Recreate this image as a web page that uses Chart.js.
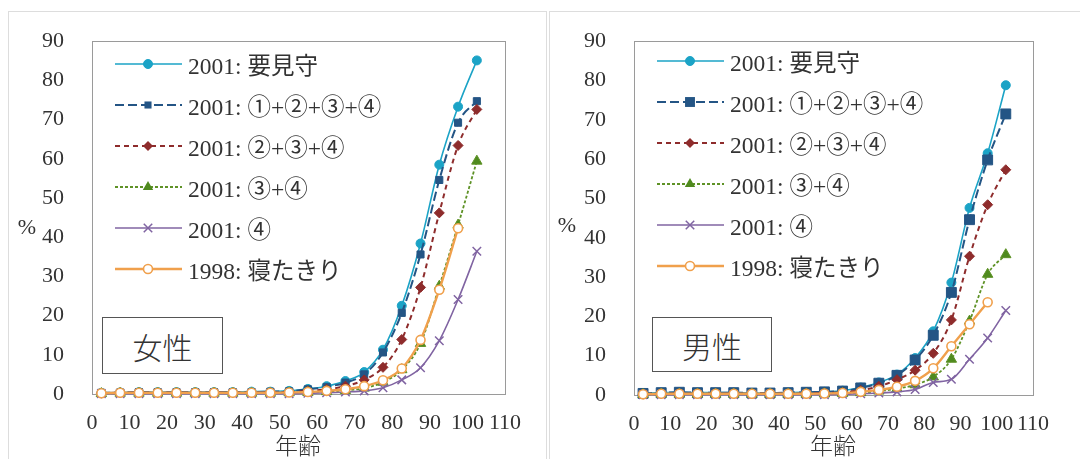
<!DOCTYPE html>
<html>
<head>
<meta charset="utf-8">
<script src="https://cdn.jsdelivr.net/npm/chart.js@4.4.1/dist/chart.umd.min.js"></script>
<style>
  body { margin: 0; background: #fff; width: 1080px; height: 459px; overflow: hidden; position: relative;
         font-family: "Liberation Serif", "Noto Sans CJK JP", serif; color: #333; }
  .frame { position: absolute; top: 11px; height: 470px; border: 1px solid #ddd; }
  .panel { position: absolute; top: 0; width: 540px; height: 459px; }
  .panel canvas { position: absolute; left: 0; top: 0; }
  .lbl { position: absolute; font-size: 22px; transform: translate(-50%, -50%); white-space: nowrap; }
  .jp { font-family: "Noto Sans CJK JP", sans-serif; font-weight: 300; font-size: 23px; }
  .legend { position: absolute; }
  .row { height: 41px; display: flex; align-items: center; font-size: 23.5px; white-space: nowrap; }
  .row svg { margin-right: 6px; flex: none; }
  .sex { position: absolute; box-sizing: border-box; border: 1.5px solid #555; background: #fff;
         font-family: "Noto Sans CJK JP", sans-serif; font-weight: 300; font-size: 30px; color: #333;
         display: flex; align-items: center; justify-content: center; }
</style>
</head>
<body>
<div class="frame" style="left:8px;width:537px"></div>
<div class="frame" style="left:549px;width:540px"></div>

<div class="panel" id="pF" style="left:0">
  <canvas id="cF" width="540" height="459"></canvas>
</div>
<div class="panel" id="pM" style="left:540px">
  <canvas id="cM" width="540" height="459"></canvas>
</div>

<script>
// age class midpoints (5-year groups)
const ages = [2.5, 7.5, 12.5, 17.5, 22.5, 27.5, 32.5, 37.5, 42.5, 47.5, 52.5,
              57.5, 62.5, 67.5, 72.5, 77.5, 82.5, 87.5, 92.5, 97.5, 102.5];
const xTickValues = [0, 10, 20, 30, 40, 50, 60, 70, 80, 90, 100, 110];
const yTickValues = [0, 10, 20, 30, 40, 50, 60, 70, 80, 90];

const seriesLabels = ['2001: 要見守', '2001: ①+②+③+④', '2001: ②+③+④',
                      '2001: ③+④', '2001: ④', '1998: 寝たきり'];

// 女性 (%)
const femaleWatch = [0.3, 0.4, 0.5, 0.5, 0.5, 0.5, 0.5, 0.5, 0.6, 0.6, 0.8, 1.3, 2.0, 3.3, 5.6, 11.3, 22.5, 38.4, 58.5, 73.3, 85.1];
const femaleAll   = [0.3, 0.4, 0.5, 0.5, 0.5, 0.5, 0.5, 0.5, 0.5, 0.6, 0.7, 1.2, 1.8, 2.9, 5.0, 10.6, 20.7, 35.6, 54.6, 69.2, 74.7];
const female234   = [0.2, 0.3, 0.3, 0.3, 0.3, 0.3, 0.3, 0.3, 0.4, 0.4, 0.5, 0.8, 1.2, 2.0, 3.6, 6.8, 13.9, 27.2, 46.2, 63.4, 72.6];
const female34    = [0.1, 0.2, 0.2, 0.2, 0.2, 0.2, 0.2, 0.2, 0.2, 0.2, 0.3, 0.4, 0.6, 0.9, 1.5, 3.0, 6.2, 12.9, 27.5, 43.1, 59.4];
const female4     = [0.1, 0.1, 0.1, 0.1, 0.1, 0.1, 0.1, 0.1, 0.1, 0.1, 0.1, 0.2, 0.3, 0.5, 0.8, 1.6, 3.6, 6.7, 13.6, 24.1, 36.4];
const female1998  = [0.2, 0.3, 0.3, 0.3, 0.3, 0.3, 0.3, 0.3, 0.3, 0.3, 0.4, 0.5, 0.8, 1.2, 2.0, 3.5, 6.5, 13.8, 26.6, 42.3, null];

// 男性 (%)
const maleWatch = [0.4, 0.6, 0.7, 0.6, 0.6, 0.6, 0.5, 0.5, 0.6, 0.7, 0.8, 1.1, 1.9, 3.2, 5.2, 9.4, 16.2, 28.6, 47.6, 61.5, 78.8];
const maleAll   = [0.4, 0.6, 0.7, 0.6, 0.6, 0.6, 0.5, 0.5, 0.6, 0.7, 0.8, 1.0, 1.8, 3.0, 5.0, 8.9, 15.2, 26.1, 44.6, 59.8, 71.5];
const male234   = [0.2, 0.3, 0.3, 0.3, 0.3, 0.3, 0.3, 0.3, 0.3, 0.4, 0.5, 0.7, 1.2, 2.2, 3.9, 6.3, 10.6, 19.1, 35.3, 48.4, 57.3];
const male34    = [0.1, 0.2, 0.2, 0.2, 0.2, 0.2, 0.2, 0.2, 0.2, 0.2, 0.3, 0.4, 0.6, 1.0, 1.6, 2.6, 4.6, 9.1, 18.8, 30.7, 35.7];
const male4     = [0.1, 0.1, 0.1, 0.1, 0.1, 0.1, 0.1, 0.1, 0.1, 0.1, 0.1, 0.2, 0.3, 0.5, 0.8, 1.4, 3.2, 4.0, 9.1, 14.5, 21.5];
const male1998  = [0.2, 0.3, 0.3, 0.3, 0.3, 0.3, 0.3, 0.3, 0.3, 0.3, 0.4, 0.5, 0.8, 1.3, 2.1, 3.6, 6.8, 12.4, 18.0, 23.6, null];

// line / marker look for each series
const styles = [
  { color: '#1ba3c6', dash: [],     width: 1.6, pointStyle: 'circle',   r: 4.5, fill: '#1ba3c6', pw: 1 },
  { color: '#245585', dash: [9, 4], width: 2,   pointStyle: 'rect',     r: 5,   fill: '#245585', pw: 1 },
  { color: '#8e2c2c', dash: [5, 4], width: 2,   pointStyle: 'rectRot',  r: 5,   fill: '#8e2c2c', pw: 1 },
  { color: '#5e9226', dash: [3, 2], width: 1.8, pointStyle: 'triangle', r: 6,   fill: '#4f8a1e', pw: 1 },
  { color: '#8064a2', dash: [],     width: 1.6, pointStyle: 'crossRot', r: 6,   fill: '#8064a2', pw: 1.5 },
  { color: '#f0a04c', dash: [],     width: 2.4, pointStyle: 'circle',   r: 4.5, fill: '#ffffff', pw: 1.6 }
];

const FONT = 'Liberation Serif';

const boxPlugin = {
  id: 'box',
  beforeDatasetsDraw(chart) {
    const a = chart.chartArea, c = chart.ctx;
    c.save();
    c.strokeStyle = '#9a9a9a';
    c.lineWidth = 1;
    c.strokeRect(Math.round(a.left) + 0.5, Math.round(a.top) + 0.5,
                 Math.round(a.right - a.left), Math.round(a.bottom - a.top));
    c.restore();
  }
};

function makeChart(id, series, dims, rectR) {
  const datasets = series.map((vals, k) => {
    const st = styles[k];
    const pts = [];
    vals.forEach((v, i) => { if (v !== null) pts.push({ x: ages[i], y: v }); });
    return {
      label: seriesLabels[k],
      data: pts,
      borderColor: st.color,
      borderWidth: st.width,
      borderDash: st.dash,
      pointStyle: st.pointStyle,
      pointRadius: st.pointStyle === 'rect' ? rectR : st.r,
      pointBackgroundColor: st.fill,
      pointBorderColor: st.color,
      pointBorderWidth: st.pw,
      cubicInterpolationMode: 'monotone',
      clip: 12,
      order: series.length - k   // later series drawn on top, as in Excel
    };
  });

  return new Chart(document.getElementById(id), {
    type: 'line',
    data: { datasets: datasets },
    options: {
      responsive: false,
      animation: false,
      devicePixelRatio: 1,
      layout: { padding: { top: dims.top, right: dims.right, left: 0, bottom: 0 } },
      plugins: { legend: { display: false }, tooltip: { enabled: false } },
      scales: {
        x: {
          type: 'linear', min: 0, max: 110,
          grid: { display: false, drawTicks: false },
          border: { display: false },
          afterBuildTicks: s => { s.ticks = xTickValues.map(v => ({ value: v })); },
          afterFit: s => { s.height = dims.xh; },
          ticks: { padding: 16, color: '#333', maxRotation: 0, autoSkip: false,
                   font: { family: FONT, size: 22 } }
        },
        y: {
          min: 0, max: 90,
          grid: { display: false, drawTicks: false },
          border: { display: false },
          afterBuildTicks: s => { s.ticks = yTickValues.map(v => ({ value: v })); },
          afterFit: s => { s.width = dims.yw; },
          ticks: { padding: 28, color: '#333', font: { family: FONT, size: 22 } }
        }
      }
    },
    plugins: [boxPlugin]
  });
}

function markerSvg(st, r) {
  const cx = 33, cy = 10;
  let m = '';
  if (st.pointStyle === 'circle') {
    m = `<circle cx="${cx}" cy="${cy}" r="${r}" fill="${st.fill}" stroke="${st.color}" stroke-width="${st.pw}"/>`;
  } else if (st.pointStyle === 'rect') {
    const s = r * Math.SQRT1_2;
    m = `<rect x="${cx - s}" y="${cy - s}" width="${2 * s}" height="${2 * s}" fill="${st.fill}"/>`;
  } else if (st.pointStyle === 'rectRot') {
    m = `<polygon points="${cx - r},${cy} ${cx},${cy - r} ${cx + r},${cy} ${cx},${cy + r}" fill="${st.fill}"/>`;
  } else if (st.pointStyle === 'triangle') {
    const h = r * 0.866;
    m = `<polygon points="${cx},${cy - r} ${cx + h},${cy + r / 2} ${cx - h},${cy + r / 2}" fill="${st.fill}"/>`;
  } else if (st.pointStyle === 'crossRot') {
    const o = r * Math.SQRT1_2;
    m = `<path d="M${cx - o} ${cy - o}L${cx + o} ${cy + o}M${cx - o} ${cy + o}L${cx + o} ${cy - o}" stroke="${st.color}" stroke-width="${st.pw}"/>`;
  }
  return `<svg width="67" height="20"><line x1="0" y1="${cy}" x2="67" y2="${cy}" stroke="${st.color}" stroke-width="${st.width}" stroke-dasharray="${st.dash.join(' ')}"/>${m}</svg>`;
}

function decorate(panelId, cfg, rectR) {
  const p = document.getElementById(panelId);
  let h = `<div class="lbl" style="left:${cfg.pct[0]}px;top:${cfg.pct[1]}px">%</div>`;
  h += `<div class="lbl jp" style="left:${cfg.xt[0]}px;top:${cfg.xt[1]}px">年齢</div>`;
  h += `<div class="legend" style="left:${cfg.leg[0]}px;top:${cfg.leg[1]}px">`;
  seriesLabels.forEach((t, k) => {
    h += `<div class="row">${markerSvg(styles[k], styles[k].pointStyle === 'rect' ? rectR : styles[k].r)}<span>${t}</span></div>`;
  });
  h += `</div>`;
  h += `<div class="sex" style="left:${cfg.box[0]}px;top:${cfg.box[1]}px;width:${cfg.box[2]}px;height:${cfg.box[3]}px">${cfg.sex}</div>`;
  p.insertAdjacentHTML('beforeend', h);
}

makeChart('cF', [femaleWatch, femaleAll, female234, female34, female4, female1998],
          { top: 40, right: 35, yw: 92, xh: 65 }, 5);
makeChart('cM', [maleWatch, maleAll, male234, male34, male4, male1998],
          { top: 40, right: 47, yw: 94, xh: 64 }, 7);

decorate('pF', { pct: [27, 227], xt: [298, 444], leg: [115, 43], box: [102, 317, 121, 57], sex: '女性' }, 5);
decorate('pM', { pct: [27, 225], xt: [293, 444], leg: [117, 40], box: [112, 317, 120, 55], sex: '男性' }, 7);
</script>
</body>
</html>
